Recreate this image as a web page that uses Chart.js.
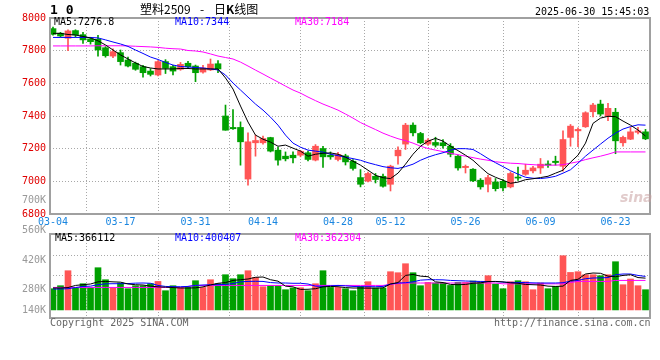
<!DOCTYPE html>
<html>
<head>
<meta charset="utf-8">
<title>塑料2509 日K线图</title>
<script src="https://cdn.jsdelivr.net/npm/chart.js"></script>
<style>
body { margin: 0; background: #fff; }
#wrap { position: relative; width: 660px; height: 360px; overflow: hidden;
        font-family: "DejaVu Sans Mono", monospace; font-size: 10px; }
canvas { position: absolute; left: 0; }
#kline { top: 0; }
#vol { top: 190px; }
.t { position: absolute; white-space: pre; line-height: 12px; }
.cjk { font-family: 'Noto Sans CJK SC'; font-size: 12px; line-height: 14px; top: 2px; }
</style>
</head>
<body>
<div id="wrap">
  <canvas id="kline" width="660" height="232"></canvas>
  <canvas id="vol" width="660" height="150"></canvas>

  <div class="t" style="left:50px;top:3px;font-weight:bold;font-size:13px;line-height:14px">1 0</div>
  <div class="t cjk" style="left:140px">塑料2509</div>
  <div class="t cjk" style="left:200px">-</div>
  <div class="t cjk" style="left:214px">日<b>K</b>线图</div>
  <div class="t" style="left:535px;top:6px;color:#000">2025-06-30 15:45:03</div>

  <div class="t" id="lg1" style="left:54px;top:16px;color:#000"></div>
  <div class="t" id="lg2" style="left:175px;top:16px;color:#0000ff"></div>
  <div class="t" id="lg3" style="left:295px;top:16px;color:#ff00ff"></div>

  <div class="t" id="vg1" style="left:55px;top:232px;color:#000"></div>
  <div class="t" id="vg2" style="left:175px;top:232px;color:#0000ff"></div>
  <div class="t" id="vg3" style="left:295px;top:232px;color:#ff00ff"></div>

  <div class="t" style="left:620px;top:189px;font-family:'DejaVu Sans';font-weight:bold;font-style:italic;font-size:14px;line-height:16px;color:rgba(200,160,160,0.55)">sina</div>

  <div class="t" style="left:50px;top:317px;color:#666">Copyright 2025 SINA.COM</div>
  <div class="t" style="left:494px;top:317px;color:#666">http://finance.sina.com.cn</div>
</div>

<script>
// ---- data ----
// date labels on the x axis and the candle index they sit on
const dates = ['03-04', '03-17', '03-31', '04-14', '04-28', '05-12', '05-26', '06-09', '06-23'];
const dateIdx = [0, 9, 19, 28, 38, 45, 55, 65, 75];

const priceTicks = [6800, 7000, 7200, 7400, 7600, 7800, 8000];

const opens = [7935, 7907, 7876, 7923, 7898, 7872, 7870, 7818, 7767, 7788,
               7743, 7723, 7702, 7675, 7651, 7733, 7702, 7686, 7723, 7706,
               7669, 7682, 7720, 7400, 7330, 7330, 7014, 7236, 7236, 7268,
               7191, 7154, 7160, 7160, 7175, 7130, 7201, 7160, 7134, 7156,
               7123, 7023, 7001, 7031, 7031, 6982, 7156, 7228, 7344, 7293,
               7228, 7238, 7236, 7215, 7154, 7084, 7074, 7007, 6982, 6996,
               7000, 6966, 7025, 7043, 7064, 7082, 7105, 7123, 7092, 7269,
               7309, 7334, 7426, 7473, 7399, 7423, 7236, 7258, 7300, 7303];
const closes = [7900, 7890, 7921, 7896, 7866, 7855, 7804, 7769, 7794, 7733,
                7706, 7686, 7665, 7655, 7733, 7692, 7675, 7716, 7702, 7665,
                7694, 7718, 7688, 7313, 7322, 7242, 7242, 7250, 7262, 7185,
                7130, 7138, 7144, 7184, 7134, 7215, 7150, 7150, 7164, 7119,
                7079, 6982, 7048, 7011, 6970, 7093, 7191, 7344, 7297, 7236,
                7252, 7221, 7218, 7166, 7082, 7092, 7003, 6966, 7023, 6955,
                6960, 7048, 7020, 7068, 7082, 7105, 7100, 7115, 7256, 7338,
                7318, 7420, 7467, 7412, 7447, 7248, 7269, 7303, 7309, 7260];
const highs = [7945, 7912, 7927, 7928, 7913, 7880, 7894, 7825, 7812, 7804,
               7760, 7730, 7710, 7690, 7740, 7745, 7710, 7728, 7735, 7712,
               7710, 7749, 7740, 7467, 7440, 7364, 7297, 7283, 7277, 7270,
               7210, 7180, 7180, 7190, 7185, 7225, 7215, 7180, 7178, 7166,
               7133, 7072, 7056, 7048, 7044, 7099, 7211, 7355, 7358, 7300,
               7262, 7270, 7256, 7231, 7160, 7100, 7078, 7017, 7037, 7017,
               7010, 7058, 7088, 7105, 7092, 7140, 7125, 7154, 7309, 7348,
               7328, 7426, 7477, 7497, 7477, 7447, 7277, 7330, 7330, 7318];
const lows = [7895, 7882, 7800, 7882, 7845, 7840, 7767, 7760, 7757, 7712,
              7700, 7680, 7637, 7645, 7645, 7660, 7651, 7680, 7690, 7610,
              7662, 7678, 7665, 7313, 7318, 7099, 6976, 7154, 7228, 7180,
              7099, 7125, 7112, 7150, 7125, 7125, 7085, 7135, 7125, 7100,
              7068, 6966, 6996, 6990, 6964, 6941, 7105, 7195, 7278, 7230,
              7220, 7210, 7203, 7150, 7068, 7051, 6998, 6952, 6935, 6941,
              6941, 6960, 7005, 7037, 7052, 7048, 7085, 7099, 7062, 7215,
              7212, 7330, 7395, 7400, 7372, 7169, 7215, 7255, 7290, 7255];

const ma5 = [7906, 7906, 7899, 7896, 7887, 7878, 7860, 7835, 7804, 7774,
             7749, 7725, 7703, 7694, 7688, 7688, 7688, 7691, 7691, 7688,
             7688, 7688, 7688, 7633, 7565, 7461, 7363, 7283, 7258, 7240,
             7215, 7222, 7203, 7185, 7154, 7166, 7172, 7174, 7166, 7148,
             7123, 7099, 7068, 7037, 7022, 7017, 7050, 7105, 7166, 7215,
             7246, 7263, 7246, 7215, 7188, 7160, 7129, 7087, 7047, 7025,
             7007, 6988, 6995, 7010, 7016, 7023, 7031, 7050, 7068, 7117,
             7160, 7234, 7355, 7387, 7398, 7396, 7369, 7344, 7314, 7277];
const ma10 = [7881, 7881, 7881, 7881, 7881, 7881, 7878, 7866, 7853, 7841,
              7826, 7804, 7783, 7761, 7746, 7728, 7712, 7703, 7700, 7697,
              7694, 7688, 7682, 7651, 7602, 7559, 7516, 7473, 7436, 7393,
              7344, 7283, 7234, 7209, 7191, 7185, 7179, 7166, 7157, 7148,
              7139, 7129, 7114, 7102, 7090, 7083, 7079, 7090, 7105, 7129,
              7148, 7163, 7175, 7191, 7200, 7200, 7195, 7169, 7140, 7114,
              7090, 7065, 7044, 7025, 7019, 7017, 7022, 7031, 7050, 7071,
              7111, 7154, 7191, 7228, 7264, 7295, 7320, 7335, 7346, 7344];
const ma30 = [7829, 7829, 7829, 7829, 7829, 7829, 7830, 7830, 7830, 7830,
              7829, 7827, 7825, 7823, 7820, 7815, 7812, 7810, 7801, 7798,
              7792, 7780, 7767, 7758, 7749, 7730, 7706, 7681, 7657, 7632,
              7608, 7583, 7559, 7540, 7516, 7494, 7473, 7455, 7436, 7412,
              7387, 7360, 7338, 7317, 7295, 7277, 7261, 7249, 7234, 7215,
              7201, 7191, 7182, 7172, 7163, 7154, 7145, 7136, 7129, 7120,
              7115, 7111, 7109, 7105, 7102, 7099, 7099, 7099, 7102, 7111,
              7120, 7133, 7144, 7154, 7166, 7180, 7180, 7180, 7180, 7180];

// volume, in thousands
const volumeK = [292, 313, 418, 297, 327, 299, 439, 355, 297, 332,
                 292, 313, 313, 327, 343, 278, 313, 301, 301, 348,
                 301, 355, 327, 390, 362, 390, 418, 371, 306, 313,
                 313, 285, 297, 299, 278, 327, 418, 301, 301, 292,
                 278, 308, 341, 297, 297, 411, 404, 467, 404, 313,
                 336, 332, 332, 315, 336, 336, 346, 341, 383, 325,
                 292, 341, 348, 341, 285, 332, 292, 308, 523, 406,
                 411, 390, 390, 383, 390, 481, 320, 360, 313, 285];
const volMa5K = [297, 297, 300, 315, 320, 325, 340, 343, 340, 338,
                 325, 320, 318, 310, 305, 303, 300, 297, 297, 298,
                 305, 318, 330, 335, 350, 355, 360, 372, 374, 355,
                 345, 310, 305, 287, 288, 292, 305, 308, 306, 300,
                 297, 297, 296, 296, 298, 325, 335, 385, 392, 380,
                 376, 340, 335, 322, 320, 322, 330, 333, 342, 343,
                 340, 333, 330, 322, 320, 318, 310, 308, 310, 350,
                 358, 395, 402, 400, 380, 376, 385, 390, 370, 366];
const volMa10K = [290, 290, 292, 300, 308, 310, 320, 326, 327, 327,
                  328, 331, 332, 330, 315, 308, 306, 306, 308, 315,
                  318, 320, 320, 322, 328, 340, 343, 344, 343, 335,
                  332, 332, 330, 330, 325, 310, 308, 312, 315, 312,
                  308, 306, 306, 306, 308, 325, 332, 334, 340, 352,
                  355, 355, 354, 350, 348, 346, 344, 343, 342, 342,
                  338, 336, 336, 335, 333, 332, 332, 332, 334, 345,
                  350, 362, 367, 368, 370, 390, 395, 395, 385, 378];
const volMa30K = [301, 301, 301, 301, 301, 301, 301, 301, 301, 301,
                  301, 301, 301, 301, 301, 301, 301, 301, 308, 315,
                  315, 315, 315, 315, 315, 315, 315, 315, 315, 315,
                  315, 315, 315, 315, 315, 315, 315, 315, 315, 315,
                  315, 315, 315, 315, 315, 322, 328, 332, 332, 332,
                  332, 332, 332, 332, 332, 332, 332, 332, 332, 332,
                  326, 326, 326, 326, 326, 326, 326, 326, 326, 335,
                  343, 343, 343, 343, 343, 350, 350, 350, 350, 350];

// volume axis: tick values and the text Sina prints beside them
const volTickVals = [140000, 285000, 490000, 700000, 911000];
const volTickText = ['140K', '280K', '420K', '560K', '700K'];
const volGridVals = [245000, 385000, 525000];
const volBase = 140000;

const legendTop = ['MA5:7276.8', 'MA10:7344', 'MA30:7184'];
const legendVol = ['MA5:366112', 'MA10:400407', 'MA30:362304'];

// ---- drawing ----
['lg1', 'lg2', 'lg3'].forEach((id, i) => document.getElementById(id).textContent = legendTop[i]);
['vg1', 'vg2', 'vg3'].forEach((id, i) => document.getElementById(id).textContent = legendVol[i]);

const RED = '#ff5555';
const GREEN = '#00a000';
const NONE = 'rgba(0,0,0,0)';
const GRID = '#a8a8a8';
const monoFont = { family: 'DejaVu Sans Mono', size: 10 };

const candleColor = closes.map((c, i) => c >= opens[i] ? RED : GREEN);
const pts = arr => arr.map((v, i) => ({ x: i, y: v }));

// grey box round the plot area
const framePlugin = {
  id: 'frame',
  afterDraw(chart) {
    const a = chart.chartArea;
    const c = chart.ctx;
    c.save();
    c.strokeStyle = '#a0a0a0';
    c.lineWidth = 2;
    c.strokeRect(a.left, a.top, a.right - a.left, a.bottom - a.top);
    c.restore();
  }
};

function dateAxis(showLabels) {
  return {
    type: 'linear',
    min: -0.4,
    max: 79.6,
    offset: false,
    afterBuildTicks: s => { s.ticks = dateIdx.map(v => ({ value: v })); },
    afterFit: s => { s.height = showLabels ? 18 : 0; },
    grid: { color: ctx => (ctx.tick && ctx.tick.value === 0) ? NONE : GRID, lineWidth: 1, drawTicks: false },
    border: { display: false, dash: [1, 2] },
    ticks: {
      display: showLabels, autoSkip: false, maxRotation: 0, padding: 2,
      color: '#1a86e0', font: monoFont,
      callback: v => dates[dateIdx.indexOf(v)]
    }
  };
}

function maLine(arr, color) {
  return { type: 'line', data: pts(arr), borderColor: color, borderWidth: 1,
           pointRadius: 0, tension: 0, order: 0 };
}

// candlestick chart
new Chart(document.getElementById('kline'), {
  type: 'bar',
  data: {
    datasets: [
      maLine(ma5, '#000000'),
      maLine(ma10, '#0000ff'),
      maLine(ma30, '#ff00ff'),
      {
        label: 'body',
        data: opens.map((o, i) => ({ x: i, y: [o, closes[i]] })),
        backgroundColor: candleColor,
        barThickness: 6, grouped: false, minBarLength: 1, order: 1
      },
      {
        label: 'wick',
        data: lows.map((l, i) => ({ x: i, y: [l, highs[i]] })),
        backgroundColor: candleColor,
        barThickness: 1, grouped: false, order: 2
      }
    ]
  },
  options: {
    responsive: false,
    animation: false,
    devicePixelRatio: 1,
    events: [],
    layout: { padding: { top: 18, right: 10, left: 0, bottom: 0 } },
    plugins: { legend: { display: false }, tooltip: { enabled: false } },
    scales: {
      x: dateAxis(true),
      y: {
        min: 6800, max: 8000,
        afterBuildTicks: s => { s.ticks = priceTicks.map(v => ({ value: v })); },
        afterFit: s => { s.width = 50; },
        grid: { color: ctx => (ctx.tick && (ctx.tick.value === 6800 || ctx.tick.value === 8000)) ? NONE : GRID, drawTicks: false },
        border: { display: false, dash: [1, 2] },
        ticks: { color: '#e00000', padding: 4, font: monoFont, autoSkip: false,
                 callback: v => String(v) }
      }
    }
  },
  plugins: [framePlugin]
});

// volume chart
new Chart(document.getElementById('vol'), {
  type: 'bar',
  data: {
    datasets: [
      maLine(volMa5K.map(v => v * 1000), '#000000'),
      maLine(volMa10K.map(v => v * 1000), '#0000ff'),
      maLine(volMa30K.map(v => v * 1000), '#ff00ff'),
      {
        label: 'volume',
        data: pts(volumeK.map(v => v * 1000)),
        base: volBase,
        backgroundColor: candleColor,
        barThickness: 6, grouped: false, order: 1
      }
    ]
  },
  options: {
    responsive: false,
    animation: false,
    devicePixelRatio: 1,
    events: [],
    layout: { padding: { top: 44, right: 10, left: 0, bottom: 22 } },
    plugins: { legend: { display: false }, tooltip: { enabled: false } },
    scales: {
      x: dateAxis(false),
      y: {
        min: 87000, max: 675000,
        afterBuildTicks: s => { s.ticks = volTickVals.map(v => ({ value: v })); },
        afterFit: s => { s.width = 50; },
        grid: { color: NONE, drawTicks: false },
        border: { display: false },
        ticks: { color: '#999999', padding: 4, font: monoFont, autoSkip: false,
                 callback: v => volTickText[volTickVals.indexOf(v)] }
      },
      g: {
        position: 'right',
        min: 87000, max: 675000,
        afterBuildTicks: s => { s.ticks = volGridVals.map(v => ({ value: v })); },
        afterFit: s => { s.width = 0; },
        grid: { color: GRID, drawTicks: false },
        border: { display: false, dash: [1, 2] },
        ticks: { display: false }
      }
    }
  },
  plugins: [framePlugin]
});
</script>
</body>
</html>
